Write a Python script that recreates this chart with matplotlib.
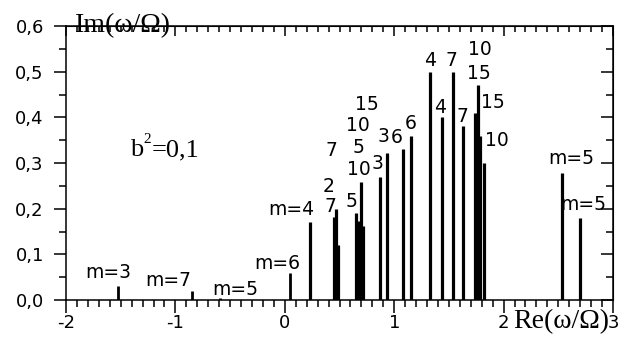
import matplotlib
matplotlib.use("Agg")
import matplotlib.pyplot as plt
from matplotlib.ticker import MultipleLocator, FuncFormatter

# mode positions Re(w/Omega) and growth rates Im(w/Omega)
re_w = [-1.525, -0.845, -0.59, 0.05, 0.23, 0.453, 0.468, 0.489, 0.651, 0.672,
        0.697, 0.718, 0.87, 0.937, 1.078, 1.151, 1.327, 1.437, 1.54, 1.626,
        1.738, 1.763, 1.787, 1.821, 2.537, 2.70]
im_w = [0.03, 0.02, 0.005, 0.06, 0.17, 0.181, 0.199, 0.12, 0.191, 0.173,
        0.259, 0.163, 0.27, 0.321, 0.33, 0.359, 0.50, 0.40, 0.50, 0.38,
        0.41, 0.471, 0.36, 0.30, 0.279, 0.179]

# labels (text, x, y)
lab_text = ["m=3", "m=7", "m=5", "m=6", "m=4", "2", "7", "7", "5", "10", "5",
            "10", "15", "3", "3", "6", "6", "4", "7", "10", "15", "4", "7",
            "15", "10", "m=5", "m=5"]
lab_x = [-1.616, -1.068, -0.451, -0.067, 0.057, 0.398, 0.42, 0.43, 0.611,
         0.675, 0.672, 0.672, 0.749, 0.849, 0.90, 1.023, 1.153, 1.327, 1.526,
         1.784, 1.775, 1.419, 1.626, 1.906, 1.937, 2.622, 2.729]
lab_y = [0.060, 0.042, 0.024, 0.081, 0.199, 0.248, 0.204, 0.328, 0.215,
         0.285, 0.334, 0.382, 0.428, 0.298, 0.358, 0.356, 0.387, 0.525, 0.525,
         0.549, 0.496, 0.422, 0.401, 0.432, 0.349, 0.31, 0.21]

fig = plt.figure(figsize=(6.31, 3.38), dpi=100)
ax = fig.add_axes([66 / 631, 38 / 338, 547 / 631, 274 / 338])

lw = [2.0 if h < 0.1 else 2.3 for h in im_w]
ax.vlines(re_w, 0, im_w, colors="black", linewidth=lw)

for t, x, y in zip(lab_text, lab_x, lab_y):
    ax.text(x, y, t, fontsize=13.5, ha="center", va="center", family="DejaVu Sans")

# b^2 = 0,1 with a raised small 2
ax.text(-1.415, 0.328, "b", fontsize=19, family="Liberation Serif",
        ha="left", va="center")
ax.text(-1.29, 0.352, "2", fontsize=11, family="Liberation Serif",
        ha="left", va="center")
ax.text(-1.22, 0.328, "=0,1", fontsize=19, family="Liberation Serif",
        ha="left", va="center")
ax.text(-1.92, 0.6, "Im(ω/Ω)", fontsize=20, family="Liberation Serif",
        ha="left", va="center", clip_on=False)
ax.text(2.086, -0.0475, "Re(ω/Ω)", fontsize=20, family="Liberation Serif",
        ha="left", va="center", clip_on=False)

ax.set_xlim(-2, 3)
ax.set_ylim(0, 0.6)
ax.xaxis.set_major_locator(MultipleLocator(1))
ax.xaxis.set_minor_locator(MultipleLocator(0.1))
ax.yaxis.set_major_locator(MultipleLocator(0.1))
ax.yaxis.set_minor_locator(MultipleLocator(0.05))
ax.yaxis.set_major_formatter(FuncFormatter(lambda v, p: f"{v:.1f}".replace(".", ",")))
ax.xaxis.set_major_formatter(FuncFormatter(lambda v, p: f"{v:.0f}"))

ax.tick_params(which="both", direction="out", width=1.1, labelsize=13)
ax.tick_params(which="major", length=9)
ax.tick_params(which="minor", length=5)
ax.tick_params(axis="x", pad=1)
ax.tick_params(axis="y", pad=7)
for s in ax.spines.values():
    s.set_linewidth(1.1)

# mirrored ticks pointing inward on top and right
top = ax.secondary_xaxis("top")
top.xaxis.set_major_locator(MultipleLocator(1))
top.xaxis.set_minor_locator(MultipleLocator(0.1))
top.tick_params(which="both", direction="in", width=1.1, labeltop=False)
top.tick_params(which="major", length=7)
top.tick_params(which="minor", length=4)
right = ax.secondary_yaxis("right")
right.yaxis.set_major_locator(MultipleLocator(0.1))
right.yaxis.set_minor_locator(MultipleLocator(0.05))
right.tick_params(which="both", direction="in", width=1.1, labelright=False)
right.tick_params(which="major", length=9)
right.tick_params(which="minor", length=5)

fig.savefig("out.png", dpi=100)
